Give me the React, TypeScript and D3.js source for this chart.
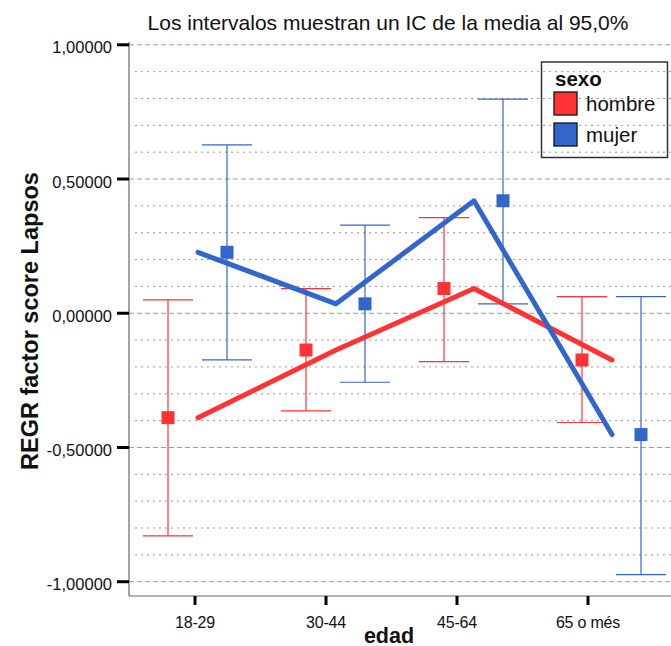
import React from "react";
import * as d3 from "d3";

// Age groups and per-sex means with 95% confidence limits
const categories = ["18-29", "30-44", "45-64", "65 o més"];
const hombreMean = [-0.389, -0.137, 0.092, -0.174];
const hombreLower = [-0.829, -0.364, -0.18, -0.407];
const hombreUpper = [0.05, 0.092, 0.356, 0.062];
const mujerMean = [0.227, 0.035, 0.419, -0.452];
const mujerLower = [-0.174, -0.257, 0.035, -0.974];
const mujerUpper = [0.627, 0.328, 0.798, 0.062];
const yTicks = [1, 0.5, 0, -0.5, -1];

const W = 671;
const H = 646;
const FONT = "'Liberation Sans', Arial, sans-serif";
const RED = "#ff3333";
const BLUE = "#3366cc";

const locale = d3.formatLocale({
  decimal: ",",
  thousands: ".",
  grouping: [3],
  currency: ["", "€"],
  minus: "-",
});
const fmt = locale.format(".5f");

export default function App() {
  const left = 129;
  const bottom = 596;
  const y = d3.scaleLinear().domain([-1, 1]).range([581.7, 44.8]);
  const xTick = d3.scalePoint<string>().domain(categories).range([195, 588]);
  const xLine = d3.scalePoint<string>().domain(categories).range([198, 612]);

  const minor = d3.range(-10, 11).map((d) => d / 10).filter((v) => Math.abs((v * 10) % 5) > 1e-6);

  const series = [
    { name: "hombre", color: RED, mean: hombreMean, lo: hombreLower, hi: hombreUpper, dx: -30 },
    { name: "mujer", color: BLUE, mean: mujerMean, lo: mujerLower, hi: mujerUpper, dx: 29 },
  ];

  const line = d3
    .line<number>()
    .x((_, i) => xLine(categories[i]) as number)
    .y((d) => y(d));

  return (
    <svg width={W} height={H} style={{ position: "absolute", left: 0, top: 0, background: "#fff" }} fontFamily={FONT}>
      <rect width={W} height={H} fill="#fff" />
      <text x={388} y={30} textAnchor="middle" fontSize={21} fill="#111">
        Los intervalos muestran un IC de la media al 95,0%
      </text>

      {/* minor gridlines */}
      {minor.map((v) => (
        <line key={"m" + v} x1={135} x2={W} y1={y(v)} y2={y(v)} stroke="#999" strokeWidth={1} strokeDasharray="2,4" />
      ))}
      {/* major gridlines */}
      {yTicks.map((v) => (
        <line key={"g" + v} x1={left} x2={W} y1={y(v)} y2={y(v)} stroke="#999" strokeWidth={1} strokeDasharray="5,3" />
      ))}

      {/* axes frame */}
      <line x1={left} x2={left} y1={42} y2={bottom} stroke="#666" strokeWidth={1.2} />
      <line x1={left} x2={W} y1={bottom} y2={bottom} stroke="#666" strokeWidth={1.2} />

      {/* y ticks */}
      {yTicks.map((v) => (
        <g key={"t" + v}>
          <line x1={117} x2={129} y1={y(v)} y2={y(v)} stroke="#000" strokeWidth={3} />
          <text x={112} y={y(v) + 8.5} textAnchor="end" fontSize={16.5} fill="#111">
            {fmt(v)}
          </text>
        </g>
      ))}

      {/* x ticks */}
      {categories.map((c) => (
        <g key={"x" + c}>
          <line x1={xTick(c)} x2={xTick(c)} y1={bottom} y2={605} stroke="#000" strokeWidth={3} />
          <text x={xTick(c)} y={627.5} textAnchor="middle" fontSize={16} fill="#111" letterSpacing={-0.2}>
            {c}
          </text>
        </g>
      ))}

      <text x={389} y={643} textAnchor="middle" fontSize={21.5} fontWeight="bold" fill="#111">
        edad
      </text>
      <text
        transform="translate(38,321) rotate(-90)"
        textAnchor="middle"
        fontSize={23.5}
        fontWeight="bold"
        fill="#111"
      >
        REGR factor score Lapsos
      </text>

      {/* error bars */}
      {series.map((s) =>
        categories.map((c, i) => {
          const cx = (xLine(c) as number) + s.dx;
          return (
            <g key={s.name + c} stroke={s.color} strokeWidth={1.2}>
              <line x1={cx} x2={cx} y1={y(s.lo[i])} y2={y(s.hi[i])} />
              <line x1={cx - 25} x2={cx + 25} y1={y(s.lo[i])} y2={y(s.lo[i])} />
              <line x1={cx - 25} x2={cx + 25} y1={y(s.hi[i])} y2={y(s.hi[i])} />
            </g>
          );
        })
      )}

      {/* mean lines */}
      {series.map((s) => (
        <path
          key={"l" + s.name}
          d={line(s.mean) || ""}
          fill="none"
          stroke={s.color}
          strokeWidth={5}
          strokeLinecap="round"
          strokeLinejoin="round"
        />
      ))}

      {/* mean markers */}
      {series.map((s) =>
        categories.map((c, i) => {
          const cx = (xLine(c) as number) + s.dx;
          return <rect key={"p" + s.name + c} x={cx - 6.5} y={y(s.mean[i]) - 6.5} width={13} height={13} fill={s.color} />;
        })
      )}

      {/* legend */}
      <rect x={541.5} y={62} width={126} height={95.5} fill="none" stroke="#333" strokeWidth={1.5} />
      <text x={555} y={86} fontSize={20.5} fontWeight="bold" fill="#111">
        sexo
      </text>
      {series.map((s, i) => (
        <g key={"lg" + s.name}>
          <rect x={554} y={92 + i * 31} width={23} height={23} fill={s.color} stroke="#111" strokeWidth={1.3} />
          <text x={586} y={111 + i * 31} fontSize={20.5} fill="#111">
            {s.name}
          </text>
        </g>
      ))}
    </svg>
  );
}
